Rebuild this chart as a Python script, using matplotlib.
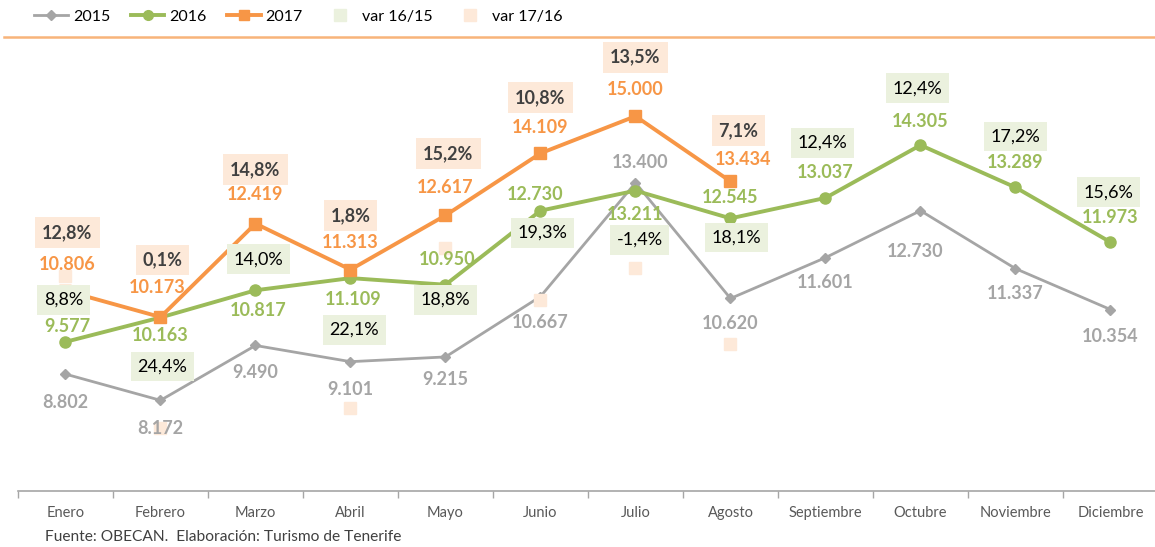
import matplotlib
matplotlib.use("Agg")
import matplotlib.pyplot as plt
from matplotlib.lines import Line2D

# Datos del grafico (turistas por mes)
meses = ["Enero", "Febrero", "Marzo", "Abril", "Mayo", "Junio", "Julio",
         "Agosto", "Septiembre", "Octubre", "Noviembre", "Diciembre"]
serie_2015 = [8802, 8172, 9490, 9101, 9215, 10667, 13400, 10620, 11601, 12730, 11337, 10354]
serie_2016 = [9577, 10163, 10817, 11109, 10950, 12730, 13211, 12545, 13037, 14305, 13289, 11973]
serie_2017 = [10806, 10173, 12419, 11313, 12617, 14109, 15000, 13434]
var_16_15 = [8.8, 24.4, 14.0, 22.1, 18.8, 19.3, -1.4, 18.1, 12.4, 12.4, 17.2, 15.6]
var_17_16 = [12.8, 0.1, 14.8, 1.8, 15.2, 10.8, 13.5, 7.1]

# colores
gris = "#A5A5A5"
verde = "#9BBB59"
naranja = "#F79646"
fondo_verde = "#EBF1DE"
fondo_naranja = "#FDE9D9"

plt.rcParams['font.family'] = ['Lato', 'DejaVu Sans']

# desplazamientos de las etiquetas (pixeles, positivo = hacia abajo)
desp_2015 = [28, 28, 27, 28, 23, 26, -20, 25, 25, 41, 25, 27]
dx_2015 = [0, 0, 0, 0, 0, 0, 5, 0, 0, -5, 0, 0]
desp_2016 = [-15, 18, 20, 21, -25, -16, 24, -21, -25, -24, -25, -25]
dx_2016 = [2, 0, 3, 3, 2, -5, 0, 0, 0, 0, 0, 0]
desp_2017 = [-26, -30, -29, -27, -28, -26, -27, -22]
dx_2017 = [2, -3, 0, 0, 0, 0, 0, 13]
desp_v17 = [-58, -57, -54, -54, -62, -56, -59, -51]
dx_v17 = [2, 2, 0, 0, 3, 0, 0, 8]
desp_v16 = [-42, 49, -31, 52, 15, 22, 49, 19, -55, -57, -51, -50]
dx_v16 = [-2, 2, 3, 4, 0, 2, 4, 6, -3, -3, 0, -2]


def miles(v):
    return f"{v:,}".replace(",", ".")


def porcentaje(p):
    return f"{p:.1f}%".replace(".", ",")


fig = plt.figure(figsize=(11.55, 5.47), dpi=100)
ax = fig.add_axes([18 / 1155, 1 - 490.7 / 547, 1140 / 1155, (490.7 - 33) / 547])

x = list(range(len(meses)))
ax.plot(x, serie_2015, color=gris, lw=2, marker="D", ms=5.5, label="2015")
ax.plot(x, serie_2016, color=verde, lw=2.8, marker="o", ms=8, label="2016")
ax.plot(x[:len(serie_2017)], serie_2017, color=naranja, lw=2.8, marker="s", ms=8, label="2017")
ax.set_xlim(-0.5, 11.5)
ax.set_ylim(6000, 17000)

# eje secundario para las variaciones
ax2 = ax.twinx()
ax2.set_ylim(-5.16, 33.2)
ax2.plot(x[:len(var_17_16)], var_17_16, ls="none", marker="s", ms=8.5,
         color=fondo_naranja, label="var 17/16")
ax2.set_yticks([])
for a in (ax, ax2):
    for s in ("top", "right", "left"):
        a.spines[s].set_visible(False)
ax2.spines["bottom"].set_visible(False)
ax.spines["bottom"].set_color("#A6A6A6")
ax.spines["bottom"].set_linewidth(1.2)
ax.set_yticks([])
ax.set_xticks([i - 0.5 for i in range(13)])
ax.set_xticklabels([])
ax.tick_params(axis="x", which="major", length=5, color="#A6A6A6", width=1)
ax.set_xticks(x, minor=True)
ax.set_xticklabels(meses, minor=True, fontsize=10.5, color="#595959")
ax.tick_params(axis="x", which="minor", length=0, pad=11)


def etiqueta(texto, xi, yi, dx, dy, color, peso, caja=None, tam=13):
    props = dict(xy=(xi, yi), xycoords=ax.transData, xytext=(dx, -dy),
                 textcoords="offset pixels", ha="center", va="center",
                 color=color, fontsize=tam, fontweight=peso, annotation_clip=False)
    if caja:
        props["bbox"] = dict(boxstyle="square,pad=0.38", fc=caja, ec="none")
    ax2.annotate(texto, **props)


# etiquetas de valores
for i, v in enumerate(serie_2015):
    etiqueta(miles(v), i, v, dx_2015[i], desp_2015[i], gris, "bold")
for i, v in enumerate(serie_2016):
    etiqueta(miles(v), i, v, dx_2016[i], desp_2016[i], verde, "bold")
for i, v in enumerate(serie_2017):
    etiqueta(miles(v), i, v, dx_2017[i], desp_2017[i], naranja, "bold")
# etiquetas de variaciones
for i, p in enumerate(var_17_16):
    etiqueta(porcentaje(p), i, serie_2017[i], dx_v17[i], desp_v17[i], "#404040", "bold",
             caja=fondo_naranja, tam=13)
for i, p in enumerate(var_16_15):
    etiqueta(porcentaje(p), i, serie_2016[i], dx_v16[i], desp_v16[i], "black", "normal",
             caja=fondo_verde, tam=13)

# leyenda
manejadores = [
    Line2D([], [], color=gris, lw=2, marker="D", ms=5),
    Line2D([], [], color=verde, lw=2.8, marker="o", ms=7),
    Line2D([], [], color=naranja, lw=2.8, marker="s", ms=7),
    Line2D([], [], ls="none", marker="s", ms=8, color=fondo_verde),
    Line2D([], [], ls="none", marker="s", ms=8, color=fondo_naranja),
]
fig.legend(manejadores, ["2015", "2016", "2017", "var 16/15", "var 17/16"],
           loc="center left", bbox_to_anchor=(28 / 1155, 1 - 17 / 547), ncol=5,
           frameon=False, fontsize=11.5, handlelength=2.1, handletextpad=0.3,
           columnspacing=1.3, borderaxespad=0)

# linea naranja bajo la leyenda
fig.add_artist(Line2D([4 / 1155, 1], [1 - 37 / 547] * 2, color="#F8B47A", lw=1.8))

# fuente
fig.text(45 / 1155, 1 - 537 / 547, "Fuente: OBECAN.  Elaboración: Turismo de Tenerife",
         fontsize=11.2, color="#404040", va="center", ha="left")

fig.savefig("out.png", dpi=100)
